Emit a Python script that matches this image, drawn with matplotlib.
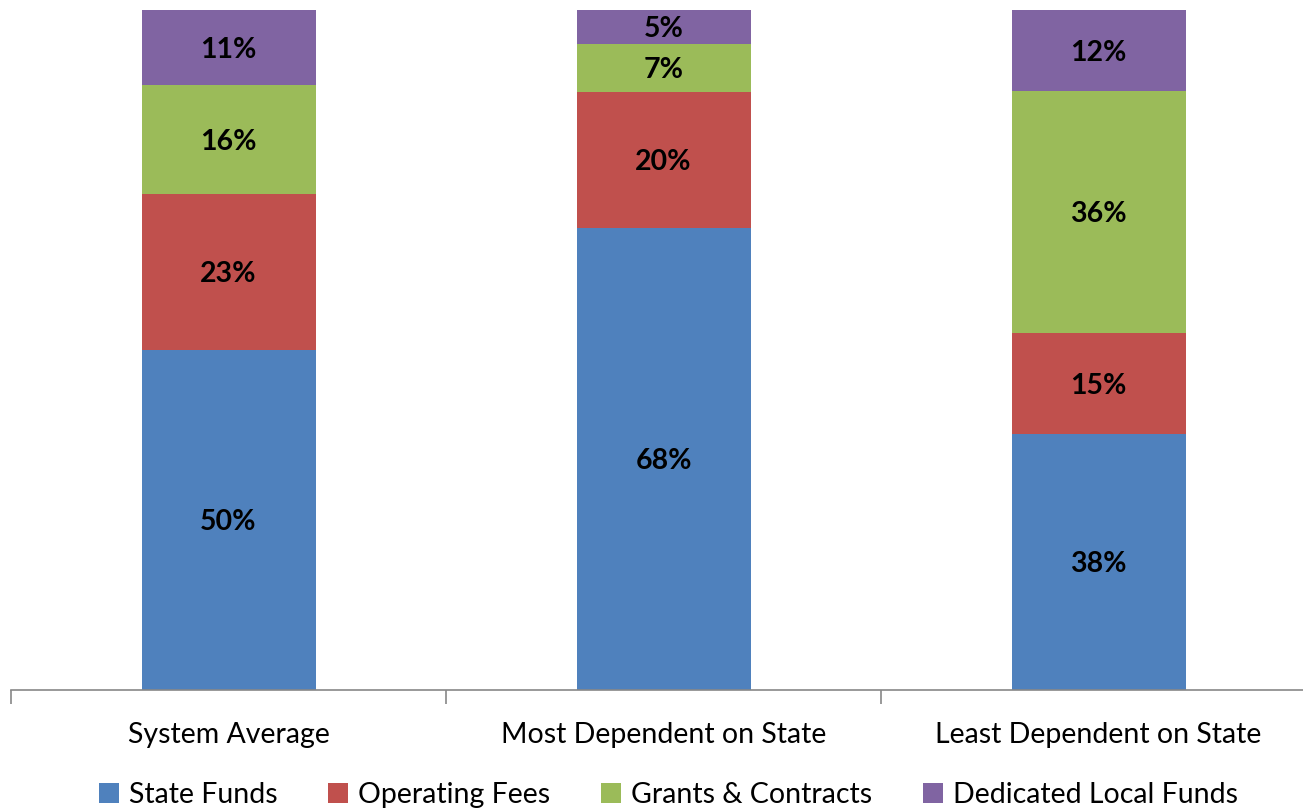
import numpy as np
import matplotlib.pyplot as plt

plt.rcParams['font.family'] = ['Lato', 'DejaVu Sans']

categories = ["System Average", "Most Dependent on State", "Least Dependent on State"]
series = ["State Funds", "Operating Fees", "Grants & Contracts", "Dedicated Local Funds"]
state_funds = [50, 68, 38]
operating_fees = [23, 20, 15]
grants_contracts = [16, 7, 36]
local_funds = [11, 5, 12]
colors = ["#4F81BD", "#C0504D", "#9BBB59", "#8064A2"]

values = np.array([state_funds, operating_fees, grants_contracts, local_funds], dtype=float)
# 100% stacked: each bar scaled to its total
heights = values / values.sum(axis=0) * 100

fig = plt.figure(figsize=(13.03, 8.10), dpi=100)
ax = fig.add_axes([11 / 1303, 120 / 810, 1305 / 1303, 680 / 810])

x = np.arange(len(categories))
bottom = np.zeros(len(categories))
for i, name in enumerate(series):
    ax.bar(x, heights[i], bottom=bottom, width=0.4, color=colors[i], label=name)
    for j in range(len(categories)):
        ax.text(x[j], bottom[j] + heights[i][j] / 2 - 0.35, "{0}%".format(int(values[i][j])),
                ha='center', va='center', fontsize=20.5, fontweight='bold', color='black')
    bottom += heights[i]

ax.set_xlim(-0.5, 2.5)
ax.set_ylim(0, 100)
for s in ['top', 'right', 'left']:
    ax.spines[s].set_visible(False)
ax.spines['bottom'].set_color('#888888')
ax.spines['bottom'].set_linewidth(1.2)
ax.set_yticks([])
ax.set_xticks([-0.5, 0.5, 1.5, 2.5])
ax.set_xticklabels([])
ax.tick_params(axis='x', which='major', length=10, width=1.2, color='#888888', direction='out')
ax.set_xticks(x, minor=True)
ax.set_xticklabels(categories, minor=True, fontsize=20.5)
ax.tick_params(axis='x', which='minor', length=0, pad=23)

fig.legend(loc='center', bbox_to_anchor=(0.513, 0.019), ncol=4, frameon=False,
           fontsize=20.5, handlelength=0.7, handleheight=0.7, handletextpad=0.35,
           columnspacing=1.78)

fig.savefig("out.png", dpi=100)
